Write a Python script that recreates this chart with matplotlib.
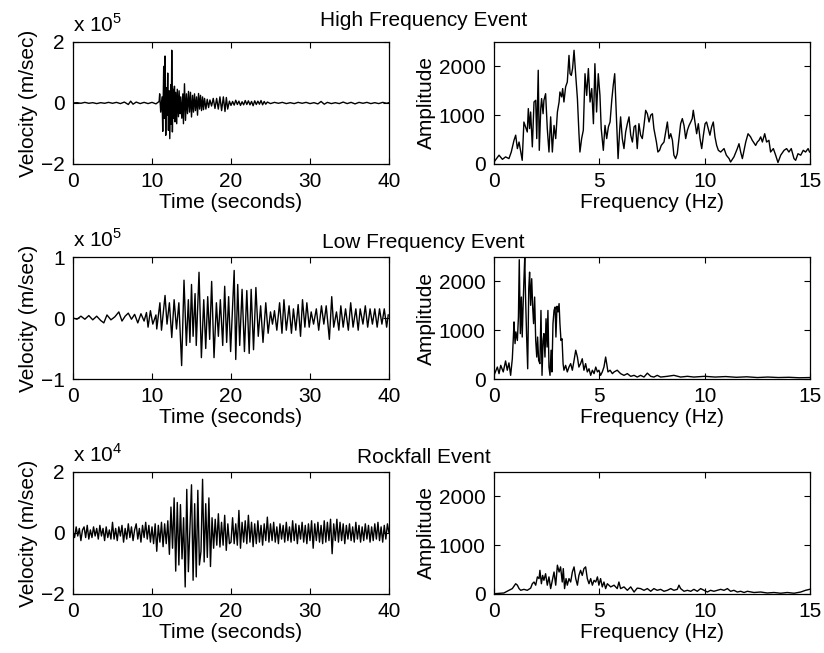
import numpy as np
import matplotlib.pyplot as plt

plt.rcParams['font.family'] = ['Liberation Sans', 'DejaVu Sans']
plt.rcParams['mathtext.fontset'] = 'custom'
plt.rcParams['mathtext.rm'] = 'Liberation Sans'
plt.rcParams['font.size'] = 15

# ---- seismograms (turning points) ----
# high frequency event, velocity in units of 1e5
hf_t = [0, 0.5, 1, 1.5, 2, 2.5, 3, 3.5, 4, 4.5, 5, 5.5, 6, 6.5, 7, 7.3, 7.6, 8, 8.5, 9, 9.5, 10, 10.5, 10.9,
        10.97, 11.1, 11.27, 11.36, 11.48, 11.57, 11.65, 11.74, 11.82, 11.9, 11.99, 12.08,
        12.16, 12.25, 12.37, 12.44, 12.5, 12.58, 12.67, 12.75, 12.84, 12.92, 13.0, 13.13,
        13.2, 13.35, 13.43, 13.56, 13.64, 13.77, 13.9, 13.98, 14.11, 14.24, 14.36, 14.49,
        14.62, 14.75, 14.87, 15.0, 15.13, 15.25, 15.38, 15.5, 15.64, 15.76, 15.89, 16.02,
        16.14, 16.27, 16.4, 16.52, 16.65, 16.82, 16.99, 17.16, 17.33, 17.54, 17.75, 17.97,
        18.18, 18.39, 18.6, 18.81, 19.03, 19.24, 19.41, 19.58,
        19.8, 20.0, 20.2, 20.4, 20.6, 20.8, 21.0, 21.2, 21.4, 21.6, 21.8, 22.0, 22.2, 22.4,
        22.6, 22.8, 23.0, 23.2, 23.4, 23.6, 23.8, 24.0, 24.2, 24.4, 24.6,
        25.0, 25.5, 26.0, 26.5, 27.0, 27.5, 28.0, 28.5, 29.0, 29.5, 30.0, 30.5, 31.0,
        31.4, 31.8, 32.2, 32.7, 33.2, 33.7, 34.2, 34.7, 35.2, 35.7, 36.2, 36.7, 37.2, 37.7,
        38.2, 38.7, 39.2, 39.7, 40]
hf_v = [0, 0.01, -0.01, 0.02, -0.01, 0.01, -0.02, 0.01, -0.01, 0.02, -0.01, 0.02, -0.02, 0.03, -0.05, 0.06, -0.04, 0.03, -0.02, 0.02, -0.02, 0.02, -0.03, 0.05,
        0.3, -0.3, 0.2, -0.93, 1.2, -0.5, 1.54, -1.06, 0.5, -0.4, 0.98, -0.9,
        0.4, -1.17, 0.6, -0.7, 1.73, -0.95, 0.45, -0.5, 0.55, -0.62, 0.35, -0.68,
        0.45, -0.45, 0.4, -0.35, 0.2, -0.5, 0.3, -0.68, 0.63, -0.57, 0.3, -0.35,
        0.38, -0.3, 0.35, -0.46, 0.25, -0.3, 0.3, -0.25, 0.2, -0.4, 0.31, -0.2,
        0.25, -0.25, 0.2, -0.22, 0.15, -0.2, 0.12, -0.15, 0.1, -0.1, 0.15, -0.18,
        0.15, -0.2, 0.2, -0.25, 0.2, -0.28, 0.18, -0.2,
        0.06, -0.08, 0.05, -0.07, 0.09, -0.05, 0.06, -0.08, 0.04, -0.06, 0.08, -0.05, 0.07, -0.06,
        0.05, -0.09, 0.07, -0.05, 0.06, -0.04, 0.08, -0.06, 0.05, -0.04, 0.03,
        -0.02, 0.02, -0.01, 0.02, -0.02, 0.01, -0.02, 0.02, -0.01, 0.02, -0.02, 0.01, -0.03,
        0.05, -0.04, 0.02, -0.02, 0.01, -0.02, 0.03, -0.02, 0.02, -0.03, 0.02, -0.01, 0.02, -0.02,
        0.01, -0.02, 0.02, -0.01, 0.01]

# low frequency event, velocity in units of 1e5
lf_t = [0, 0.5, 1, 1.5, 2, 2.5, 3, 3.5, 3.9, 4.3, 4.8, 5.3, 5.8, 6.2, 6.6, 7.0, 7.4, 7.8, 8.2, 8.6, 9.0, 9.3,
        9.5, 9.8, 10.1, 10.5, 10.6, 11.0, 11.2, 11.65, 11.9, 12.2, 12.5, 12.8, 13.1, 13.4, 13.75, 14.05,
        14.35, 14.6, 14.8, 15.0, 15.2, 15.45, 15.6, 15.95, 16.25, 16.55, 16.8, 17.05, 17.3, 17.55, 17.85,
        18.15, 18.4, 18.65, 18.95, 19.2, 19.45, 19.7, 19.95, 20.4, 20.6, 20.85, 21.1, 21.4, 21.7, 22.0,
        22.3, 22.55, 22.85, 23.15, 23.45, 23.75, 24.05, 24.4, 24.7, 25.0, 25.25, 25.5, 25.8, 26.15, 26.45,
        26.7, 27.0, 27.35, 27.65, 27.9, 28.2, 28.5, 28.8, 29.05, 29.35, 29.6, 29.9, 30.15, 30.45, 30.8,
        31.1, 31.45, 31.75, 32.05, 32.45, 32.75, 33.0, 33.35, 33.65, 33.9, 34.2, 34.5, 34.85, 35.15, 35.45,
        35.8, 36.1, 36.35, 36.7, 37.0, 37.3, 37.6, 37.9, 38.2, 38.5, 38.8, 39.1, 39.4, 39.7, 39.9]
lf_v = [0, -0.02, 0.03, -0.02, 0.04, -0.03, 0.03, -0.04, -0.08, 0.05, -0.03, 0.02, 0.1, -0.05, 0.03, 0.08, -0.02, 0.06, -0.08, 0.07, -0.05, 0.09,
        -0.15, 0.12, -0.1, 0.05, -0.18, 0.25, -0.2, 0.37, -0.1, 0.25, -0.32, 0.3, -0.18, 0.25, -0.78, 0.62,
        -0.45, 0.3, -0.4, 0.55, -0.3, 0.4, -0.45, 0.75, -0.65, 0.3, -0.5, 0.35, -0.35, 0.6, -0.65,
        0.25, -0.3, 0.3, -0.45, 0.52, -0.4, 0.35, -0.55, 0.78, -0.68, 0.55, -0.45, 0.47, -0.55, 0.45,
        -0.58, 0.47, -0.52, 0.5, -0.3, 0.2, -0.4, 0.25, -0.25, 0.1, -0.1, 0.12, -0.2, 0.25, -0.25,
        0.3, -0.2, 0.2, -0.25, 0.15, -0.2, 0.22, -0.3, 0.3, -0.15, 0.25, -0.15, 0.1, -0.1, 0.15,
        -0.2, 0.2, -0.1, 0.2, -0.35, 0.35, -0.15, 0.1, -0.2, 0.2, -0.15, 0.15, -0.2, 0.25, -0.15,
        0.15, -0.2, 0.15, -0.1, 0.2, -0.15, 0.15, -0.1, 0.15, -0.15, 0.15, -0.1, 0.15, -0.15, 0.05]

# rockfall event, velocity in units of 1e4, one value every 0.2 s from 0 to 40 s
rf_dt = 0.2
rf_v = [0.05, -0.15, 0.2, -0.1, 0.15, -0.25, 0.1, 0.2, -0.15, 0.25, -0.2, 0.1, -0.15, 0.2, -0.1, 0.15, -0.2, 0.25, -0.1, 0.15, -0.25, 0.2, -0.15, 0.1, -0.2,
        0.35, -0.2, 0.15, -0.25, 0.2, -0.1, 0.25, -0.3, 0.15, -0.2, 0.3, -0.15, 0.2, -0.25, 0.1, 0.3, -0.2, 0.15, -0.3, 0.25, -0.15, 0.35, -0.2, 0.25, -0.3,
        0.2, -0.35, 0.3, -0.6, 0.25, -0.3, 0.35, -0.45, 0.3, -0.35, 0.4, -0.7, 0.85, -0.5, 1.15, -1.25, 1.0, -1.05, 0.93, -0.85, 0.5, -1.77, 1.43, -1.27, 0.2,
        1.58, -1.55, 0.96, -1.44, 1.4, -1.05, -0.6, 1.76, -0.95, 0.96, -0.8, 1.15, -1.1, 0.5, -0.5, 0.45, -0.4, 0.63, -0.46, 0.35, -0.4, 0.58, -0.57, 0.3, -0.35,
        -0.3, 0.5, -0.35, 0.3, -0.4, 0.74, -0.5, 0.35, -0.3, 0.4, -0.35, 0.58, -0.3, 0.35, -0.45, 0.3, -0.35, 0.4, -0.3, 0.25, -0.4, 0.3, -0.25, 0.52, -0.3,
        0.3, -0.25, 0.35, -0.3, 0.2, -0.35, 0.3, -0.2, 0.25, -0.3, 0.35, -0.25, 0.2, -0.3, 0.4, -0.25, 0.3, -0.35, 0.25, -0.2, 0.35, -0.3, 0.25, -0.35, 0.3,
        -0.25, 0.4, -0.5, 0.3, -0.25, 0.35, -0.3, 0.25, -0.35, 0.4, -0.3, 0.35, -0.25, 0.45, -0.68, 0.3, -0.25, 0.45, -0.3, 0.35, -0.25, 0.3, -0.35, 0.25, -0.2,
        0.3, -0.25, 0.2, -0.3, 0.35, -0.2, 0.25, -0.3, 0.2, -0.25, 0.3, -0.2, 0.25, -0.3, 0.2, -0.25, 0.3, -0.2, 0.35, -0.25, 0.2, -0.3, 0.25, -0.2, 0.3, 0.0]
rf_t = np.arange(len(rf_v)) * rf_dt

# ---- amplitude spectra ----
hf_f = [0.0, 0.24, 0.40, 0.55, 0.71, 0.82, 0.95, 1.03, 1.11, 1.19, 1.27, 1.34, 1.42, 1.50, 1.58, 1.63, 1.69, 1.74,
        1.82, 1.90, 1.98, 2.03, 2.10, 2.15, 2.22, 2.26, 2.33, 2.37, 2.45, 2.53, 2.61, 2.69, 2.77, 2.85, 2.93, 3.01,
        3.09, 3.13, 3.21, 3.26, 3.32, 3.40, 3.48, 3.56, 3.61, 3.67, 3.73, 3.80, 3.88, 3.96, 4.03, 4.08, 4.16, 4.24,
        4.32, 4.40, 4.48, 4.56, 4.64, 4.72, 4.79, 4.87, 4.95, 5.03, 5.09, 5.19, 5.27, 5.35, 5.43, 5.51, 5.59, 5.66,
        5.73, 5.81, 5.89, 5.97, 6.01, 6.09, 6.17, 6.25, 6.33, 6.41, 6.49, 6.57, 6.65, 6.72, 6.80, 6.88, 6.96, 7.04,
        7.12, 7.20, 7.28, 7.36, 7.44, 7.52, 7.59, 7.71, 7.78, 7.86, 7.94, 8.07, 8.15, 8.23, 8.31, 8.39, 8.47, 8.54,
        8.62, 8.70, 8.78, 8.86, 8.94, 9.02, 9.10, 9.18, 9.26, 9.34, 9.41, 9.46, 9.54, 9.62, 9.70, 9.78, 9.86, 9.94,
        10.02, 10.09, 10.17, 10.25, 10.33, 10.41, 10.49, 10.57, 10.65, 10.76, 10.92, 11.03, 11.16, 11.23, 11.39, 11.55,
        11.63, 11.71, 11.79, 11.95, 12.06, 12.18, 12.26, 12.42, 12.50, 12.58, 12.66, 12.74, 12.85, 12.94, 13.05, 13.13,
        13.26, 13.37, 13.48, 13.61, 13.77, 13.89, 14.00, 14.11, 14.24, 14.32, 14.43, 14.56, 14.68, 14.79, 14.91, 14.98]
hf_amp = [40, 180, 95, 145, 110, 245, 485, 590, 315, 450, 245, 75, 860, 760, 655, 1135, 725, 1065,
          350, 1270, 1305, 520, 1920, 280, 1135, 1340, 1030, 1305, 1440, 725, 245, 965, 245, 790, 520, 1065,
          1270, 1475, 1375, 1545, 1270, 1580, 1680, 2225, 1850, 1815, 1955, 2330, 1815, 1340, 655, 245, 520, 690,
          1850, 1405, 1955, 1270, 1545, 825, 2055, 1065, 1850, 1405, 725, 280, 790, 520, 760, 860, 1305, 1610,
          1850, 1000, 110, 725, 965, 520, 315, 655, 825, 965, 590, 450, 760, 790, 315, 825, 590, 520,
          790, 1100, 1030, 860, 1000, 1030, 725, 450, 245, 280, 380, 450, 655, 860, 520, 620, 485, 180,
          110, 210, 520, 825, 930, 790, 520, 690, 790, 860, 930, 1100, 860, 620, 825, 520, 315, 590,
          825, 860, 725, 590, 760, 860, 555, 380, 280, 245, 315, 180, 110, 40, 145, 315,
          415, 245, 110, 450, 620, 555, 485, 380, 450, 485, 555, 450, 620, 450, 485, 245,
          315, 180, 30, 180, 280, 315, 245, 315, 110, 75, 210, 180, 280, 245, 315, 245]

lf_f = [0.00, 0.16, 0.24, 0.32, 0.44, 0.55, 0.63, 0.71, 0.79, 0.87, 0.92, 0.95, 1.00, 1.04, 1.11, 1.16, 1.20, 1.25,
        1.30, 1.34, 1.39, 1.42, 1.46, 1.50, 1.55, 1.60, 1.65, 1.69, 1.74, 1.79, 1.84, 1.88, 1.93, 1.98, 2.03, 2.07,
        2.12, 2.18, 2.23, 2.28, 2.33, 2.37, 2.42, 2.47, 2.52, 2.56, 2.61, 2.66, 2.71, 2.75, 2.80, 2.85, 2.90, 2.94,
        2.99, 3.04, 3.09, 3.13, 3.18, 3.23, 3.28, 3.32, 3.40, 3.48, 3.56, 3.64, 3.72, 3.80, 3.88, 3.96, 4.03, 4.11,
        4.19, 4.27, 4.35, 4.43, 4.51, 4.59, 4.67, 4.75, 4.83, 4.91, 4.98, 5.06, 5.14, 5.22, 5.30, 5.35, 5.41, 5.51,
        5.62, 5.70, 5.85, 6.01, 6.17, 6.33, 6.49, 6.65, 6.80, 6.96, 7.12, 7.28, 7.44, 7.59, 7.75, 7.91, 8.23, 8.54,
        8.86, 9.18, 9.49, 10.0, 10.5, 11.0, 11.5, 12.0, 12.5, 13.0, 13.5, 14.0, 14.5, 15.0]
lf_amp = [75, 245, 110, 280, 145, 370, 180, 330, 75, 415, 860, 1170, 725, 965, 790, 1270, 2445, 930,
          1680, 860, 1610, 2020, 2490, 1645, 860, 210, 1850, 2190, 1510, 2055, 1440, 1135, 1680, 790, 450, 860,
          380, 315, 1405, 75, 790, 930, 450, 1235, 655, 1405, 245, 75, 590, 145, 1135, 1405, 1475, 860,
          1490, 1375, 1545, 1135, 790, 825, 315, 180, 280, 145, 245, 315, 180, 380, 590, 450, 245, 315,
          415, 180, 315, 145, 210, 75, 180, 110, 245, 145, 180, 75, 145, 245, 450, 315, 145, 180,
          110, 145, 180, 110, 75, 110, 55, 75, 40, 75, 40, 120, 55, 40, 75, 40, 55, 75,
          40, 55, 40, 55, 40, 50, 35, 45, 30, 40, 30, 35, 25, 30]

rf_f = [0.00, 0.47, 0.71, 0.87, 1.03, 1.11, 1.19, 1.27, 1.42, 1.58, 1.74, 1.82, 1.90, 1.98, 2.06, 2.14, 2.18, 2.25,
        2.31, 2.37, 2.45, 2.53, 2.61, 2.69, 2.77, 2.85, 2.93, 3.01, 3.09, 3.16, 3.24, 3.29, 3.35, 3.42, 3.48, 3.56,
        3.64, 3.72, 3.80, 3.88, 3.96, 4.03, 4.11, 4.19, 4.27, 4.35, 4.43, 4.51, 4.59, 4.67, 4.75, 4.83, 4.91, 4.98,
        5.06, 5.14, 5.22, 5.30, 5.38, 5.54, 5.70, 5.85, 5.93, 6.01, 6.17, 6.33, 6.49, 6.65, 6.80, 6.96, 7.12, 7.28,
        7.44, 7.59, 7.75, 7.91, 8.07, 8.23, 8.39, 8.54, 8.70, 8.78, 8.86, 9.02, 9.18, 9.34, 9.49, 9.65, 9.81, 9.97,
        10.13, 10.28, 10.44, 10.60, 10.76, 10.92, 11.08, 11.23, 11.39, 11.55, 11.71, 11.87, 12.03, 12.34, 12.66, 12.97,
        13.29, 13.61, 13.92, 14.24, 14.56, 14.79, 14.98]
rf_amp = [5, 20, 75, 110, 210, 180, 110, 75, 95, 75, 120, 210, 245, 180, 350, 315, 485, 210,
          380, 280, 415, 180, 350, 110, 280, 450, 180, 590, 450, 555, 245, 520, 110, 315, 180, 315,
          245, 450, 555, 315, 180, 380, 485, 380, 520, 555, 315, 210, 315, 180, 280, 245, 350, 180,
          315, 145, 245, 110, 210, 145, 180, 110, 245, 110, 145, 75, 145, 40, 120, 110, 75, 110,
          55, 110, 75, 95, 55, 75, 110, 75, 95, 180, 110, 55, 75, 55, 95, 55, 110, 75,
          40, 75, 55, 75, 95, 75, 110, 55, 75, 40, 55, 30, 55, 30, 40, 20,
          30, 15, 30, 15, 40, 75, 95]

titles = ['High Frequency Event', 'Low Frequency Event', 'Rockfall Event']
vel_lims = [2, 1, 2]
vel_exp = [5, 5, 4]
traces = [(hf_t, hf_v), (lf_t, lf_v), (rf_t, rf_v)]
spectra = [(hf_f, hf_amp), (lf_f, lf_amp), (rf_f, rf_amp)]

fig = plt.figure(figsize=(8.24, 6.53), dpi=100)

bottoms = [0.7489, 0.4196, 0.0904]
title_y = [0.968, 0.628, 0.300]
h = 0.1868
w = 0.3835


def style(ax):
    ax.tick_params(direction='in', top=True, right=True, length=4, width=0.8, pad=6)
    for s in ax.spines.values():
        s.set_linewidth(0.9)


for i in range(3):
    ax = fig.add_axes([0.0886, bottoms[i], w, h])
    t, v = traces[i]
    ax.plot(t, v, color='k', lw=1.0)
    lim = vel_lims[i]
    ax.set_xlim(0, 40)
    ax.set_ylim(-lim, lim)
    ax.set_xticks([0, 10, 20, 30, 40])
    ax.set_yticks([-lim, 0, lim])
    ax.set_xlabel('Time (seconds)', labelpad=1)
    ax.set_ylabel('Velocity (m/sec)', labelpad=2)
    ax.text(0.0, 1.08, r'x 10$^{%d}$' % vel_exp[i], transform=ax.transAxes,
            ha='left', va='baseline')
    style(ax)

    ax2 = fig.add_axes([0.5995, bottoms[i], w, h])
    f, a = spectra[i]
    ax2.plot(f, a, color='k', lw=1.0)
    ax2.set_xlim(0, 15)
    ax2.set_ylim(0, 2500)
    ax2.set_xticks([0, 5, 10, 15])
    ax2.set_yticks([0, 1000, 2000])
    ax2.set_xlabel('Frequency (Hz)', labelpad=1)
    ax2.set_ylabel('Amplitude', labelpad=2)
    style(ax2)

    fig.text(0.514, title_y[i], titles[i], ha='center', va='center')

fig.savefig('out.png', dpi=100)
